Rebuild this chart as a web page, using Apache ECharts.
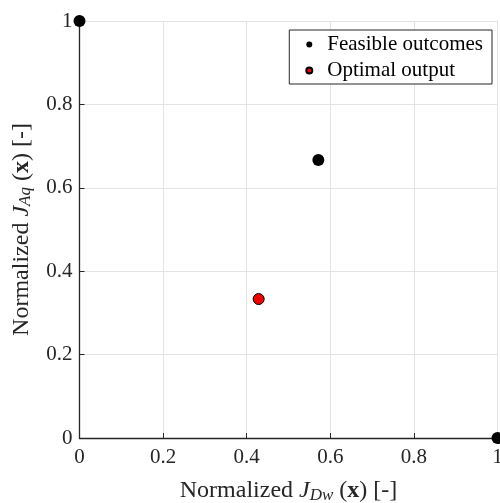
<!DOCTYPE html>
<html><head><meta charset="utf-8">
<script src="https://cdn.jsdelivr.net/npm/echarts@6/dist/echarts.min.js"></script>
<style>html,body{margin:0;padding:0;background:#fff}#c{width:500px;height:503px}</style>
</head><body><div id="c"></div>
<script>
const feasibleX = [0, 0.5714, 1];
const feasibleY = [1, 0.6667, 0];
const optimalX = [0.4286];
const optimalY = [0.3333];
const tickValues = [0, 0.2, 0.4, 0.6, 0.8, 1];
const seriesNames = ['Feasible outcomes', 'Optimal output'];

const F = 'Liberation Serif, DejaVu Serif, serif';
const chart = echarts.init(document.getElementById('c'));
function lbl(v){ return v === 0 ? '0' : (v === 1 ? '1' : String(v)); }
const richTitle = {
  n: {fontFamily: F, fontSize: 24, color: '#262626'},
  j: {fontFamily: F, fontSize: 24, fontStyle: 'italic', color: '#262626'},
  s: {fontFamily: F, fontSize: 17, fontStyle: 'italic', color: '#262626', verticalAlign: 'bottom', padding: [9,0,0,0]},
  b: {fontFamily: F, fontSize: 24, fontWeight: 'bold', color: '#262626'}
};
const axisCommon = {
  min: 0, max: 1, interval: 0.2,
  axisLine: {show: true, lineStyle: {color: '#262626', width: 1.3}},
  axisTick: {show: true, inside: true, length: 5, lineStyle: {color: '#262626'}},
  splitLine: {show: true, lineStyle: {color: '#e3e3e3', width: 1}},
  axisLabel: {color: '#262626', fontFamily: F, fontSize: 21, formatter: lbl}
};
chart.setOption({
  animation: false,
  backgroundColor: '#fff',
  grid: {left: 79.5, right: 2.5, top: 21, bottom: 65, containLabel: false, outerBoundsMode: 'none'},
  xAxis: Object.assign({}, axisCommon, {
    type: 'value',
    axisLabel: Object.assign({}, axisCommon.axisLabel, {margin: 9}),
    name: '{n|Normalized }{j|J}{s|Dw}{n| (}{b|x}{n|) [-]}',
    nameLocation: 'middle', nameGap: 40,
    nameTextStyle: {rich: richTitle}
  }),
  yAxis: Object.assign({}, axisCommon, {
    type: 'value',
    axisLabel: Object.assign({}, axisCommon.axisLabel, {margin: 7}),
    name: '{n|Normalized }{j|J}{s|Aq}{n| (}{b|x}{n|) [-]}',
    nameLocation: 'middle', nameGap: 45, nameRotate: 90,
    nameTextStyle: {rich: richTitle}
  }),
  legend: {
    right: 8, top: 30, orient: 'vertical',
    backgroundColor: '#fff', borderColor: '#262626', borderWidth: 1, borderRadius: 0,
    padding: [4, 9, 3, 16], itemGap: 5, itemWidth: 6, itemHeight: 6,
    textStyle: {fontFamily: F, fontSize: 21, color: '#000', padding: [0,0,0,10]},
    data: [{name: seriesNames[0], icon: 'circle'}, {name: seriesNames[1], icon: 'circle'}]
  },
  series: [
    {name: seriesNames[0], type: 'scatter', clip: false, symbolSize: 12,
     itemStyle: {color: '#000', opacity: 1}, z: 3,
     data: feasibleX.map((x, i) => [x, feasibleY[i]])},
    {name: seriesNames[1], type: 'scatter', clip: false, symbolSize: 11,
     itemStyle: {color: '#ee0000', borderColor: '#000', borderWidth: 1, opacity: 1}, z: 4,
     data: optimalX.map((x, i) => [x, optimalY[i]])}
  ]
});
</script></body></html>
